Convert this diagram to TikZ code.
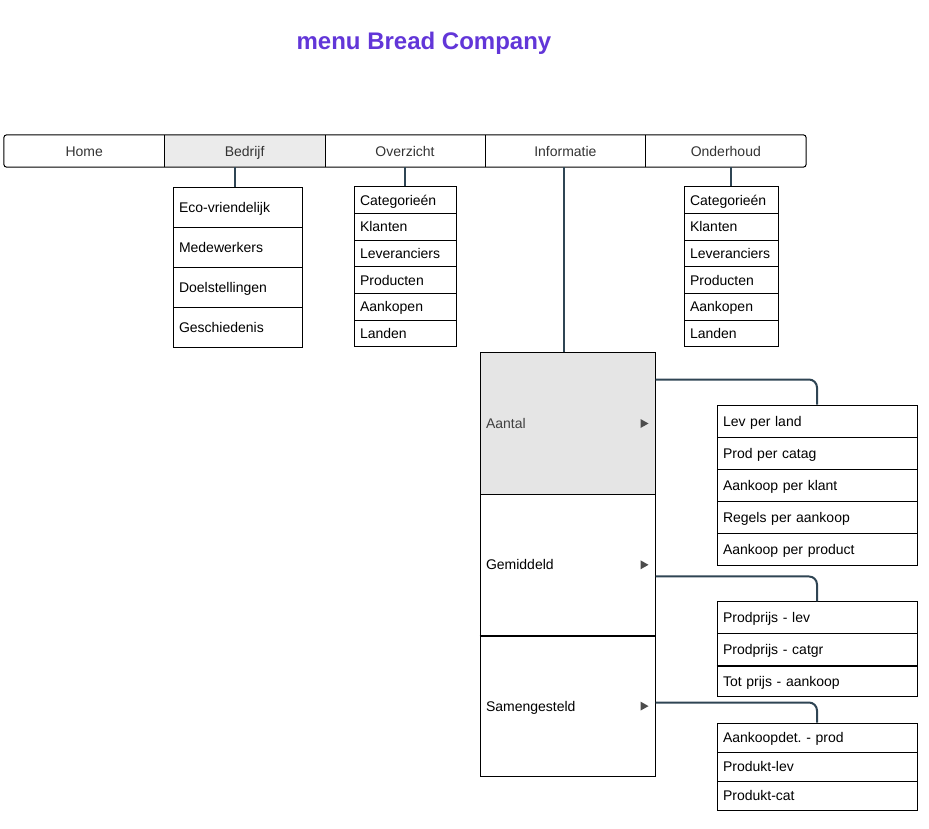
\documentclass[tikz,border=0pt]{standalone}
\usepackage{fontspec}
\setmainfont{Liberation Sans}
\usepackage{xcolor}
\usepackage{tikz}
\usetikzlibrary{positioning}
\frenchspacing
\definecolor{titlecol}{HTML}{6236D8}
\definecolor{linkcol}{HTML}{2F4554}
\definecolor{menutext}{HTML}{333333}
\tikzstyle{menucell} = [rectangle, minimum width=160.4pt, minimum height=32pt, inner sep=0pt, text height=12pt, text depth=2pt, text=menutext, font=\fontsize{14}{16}\selectfont]
\tikzstyle{item} = [rectangle, draw=black, line width=1pt, inner xsep=6pt, inner ysep=0pt, text height=12pt, text depth=2pt, align=left, font=\fontsize{14}{16}\selectfont]
\tikzstyle{link} = [draw=linkcol, line width=2pt, rounded corners=8pt]

\begin{document}
\begin{tikzpicture}[x=1pt, y=-1pt]
		\useasboundingbox (0,0) rectangle (929,828);
		\node[font=\fontsize{24}{28}\selectfont\bfseries, text=titlecol] (title) at (424,43) {menu Bread Company};

		% menubalk
		\node[menucell] (home) at (84.2,151) {Home};
		\node[menucell, fill=black!8, right of=home, node distance=160.4pt] (bedrijf) {Bedrijf};
		\node[menucell, right of=bedrijf, node distance=160.4pt] (overzicht) {Overzicht};
		\node[menucell, right of=overzicht, node distance=160.4pt] (informatie) {Informatie};
		\node[menucell, right of=informatie, node distance=160.4pt] (onderhoud) {Onderhoud};
		\draw[line width=1pt, rounded corners=3pt] (home.north west) rectangle (onderhoud.south east);
		\foreach \cell in {home, bedrijf, overzicht, informatie}
			\draw[line width=1pt] (\cell.north east) -- (\cell.south east);

		% Bedrijf
		\begin{scope}[node distance=40pt, every node/.append style={text width=117pt, minimum height=40pt}]
			\node[item] (eco) at (237.5,207) {Eco-vriendelijk};
			\node[item, below of=eco] (mede) {Medewerkers};
			\node[item, below of=mede] (doel) {Doelstellingen};
			\node[item, below of=doel] (gesch) {Geschiedenis};
		\end{scope}
		\draw[link] ([xshift=-3pt]eco.north) -- ([xshift=-3pt]eco.north |- bedrijf.south);

		% Overzicht
		\begin{scope}[node distance=26.67pt, every node/.append style={text width=90pt, minimum height=26.67pt}]
			\node[item] (ovcat) at (405,200.3) {Categorieén};
			\node[item, below of=ovcat] (ovklant) {Klanten};
			\node[item, below of=ovklant] (ovlev) {Leveranciers};
			\node[item, below of=ovlev] (ovprod) {Producten};
			\node[item, below of=ovprod] (ovaank) {Aankopen};
			\node[item, below of=ovaank] (ovland) {Landen};
		\end{scope}
		\draw[link] (ovcat.north) -- (ovcat.north |- overzicht.south);

		% Onderhoud
		\begin{scope}[node distance=26.67pt, every node/.append style={text width=82pt, minimum height=26.67pt}]
			\node[item] (ohcat) at (731,200.3) {Categorieén};
			\node[item, below of=ohcat] (ohklant) {Klanten};
			\node[item, below of=ohklant] (ohlev) {Leveranciers};
			\node[item, below of=ohlev] (ohprod) {Producten};
			\node[item, below of=ohprod] (ohaank) {Aankopen};
			\node[item, below of=ohaank] (ohland) {Landen};
		\end{scope}
		\draw[link] (ohcat.north) -- (ohcat.north |- onderhoud.south);

		% Informatie
		\begin{scope}[node distance=141.3pt, every node/.append style={text width=163pt, minimum height=141.3pt}]
			\node[item, fill=black!10, text=black!75] (aantal) at (567.5,423.5) {Aantal};
			\node[item, below of=aantal] (gemiddeld) {Gemiddeld};
			\node[item, below of=gemiddeld] (samen) {Samengesteld};
		\end{scope}
		\draw[line width=2pt] (gemiddeld.south west) -- (gemiddeld.south east);
		\draw[link] ([xshift=-1pt]informatie.south) -- ([xshift=-1pt]informatie.south |- aantal.north);
		\foreach \sub in {aantal, gemiddeld, samen}
			\fill[black!70] ([xshift=-7pt]\sub.east) -- ++(-8,4.5) -- ++(0,-9) -- cycle;

		% Aantal
		\begin{scope}[node distance=32pt, every node/.append style={text width=188pt, minimum height=32pt}]
			\node[item] (levland) at (817,421) {Lev per land};
			\node[item, below of=levland] (prodcat) {Prod per catag};
			\node[item, below of=prodcat] (aankklant) {Aankoop per klant};
			\node[item, below of=aankklant] (regels) {Regels per aankoop};
			\node[item, below of=regels] (aankprod) {Aankoop per product};
		\end{scope}
		\draw[link] ([yshift=25pt]levland.north -| aantal.east) -| (levland.north);

		% Gemiddeld
		\begin{scope}[node distance=31.67pt, every node/.append style={text width=188pt, minimum height=31.67pt}]
			\node[item] (pplev) at (817,617.8) {Prodprijs - lev};
			\node[item, below of=pplev] (ppcat) {Prodprijs - catgr};
			\node[item, below of=ppcat] (totprijs) {Tot prijs - aankoop};
		\end{scope}
		\draw[line width=2pt] (ppcat.south west) -- (ppcat.south east);
		\draw[link] ([yshift=25pt]pplev.north -| gemiddeld.east) -| (pplev.north);

		% Samengesteld
		\begin{scope}[node distance=29pt, every node/.append style={text width=188pt, minimum height=29pt}]
			\node[item] (aankdet) at (817,737.5) {Aankoopdet. - prod};
			\node[item, below of=aankdet] (prodlev) {Produkt-lev};
			\node[item, below of=prodlev] (prodcat2) {Produkt-cat};
		\end{scope}
		\draw[link] ([yshift=20pt]aankdet.north -| samen.east) -| (aankdet.north);
	\end{tikzpicture}
\end{document}
